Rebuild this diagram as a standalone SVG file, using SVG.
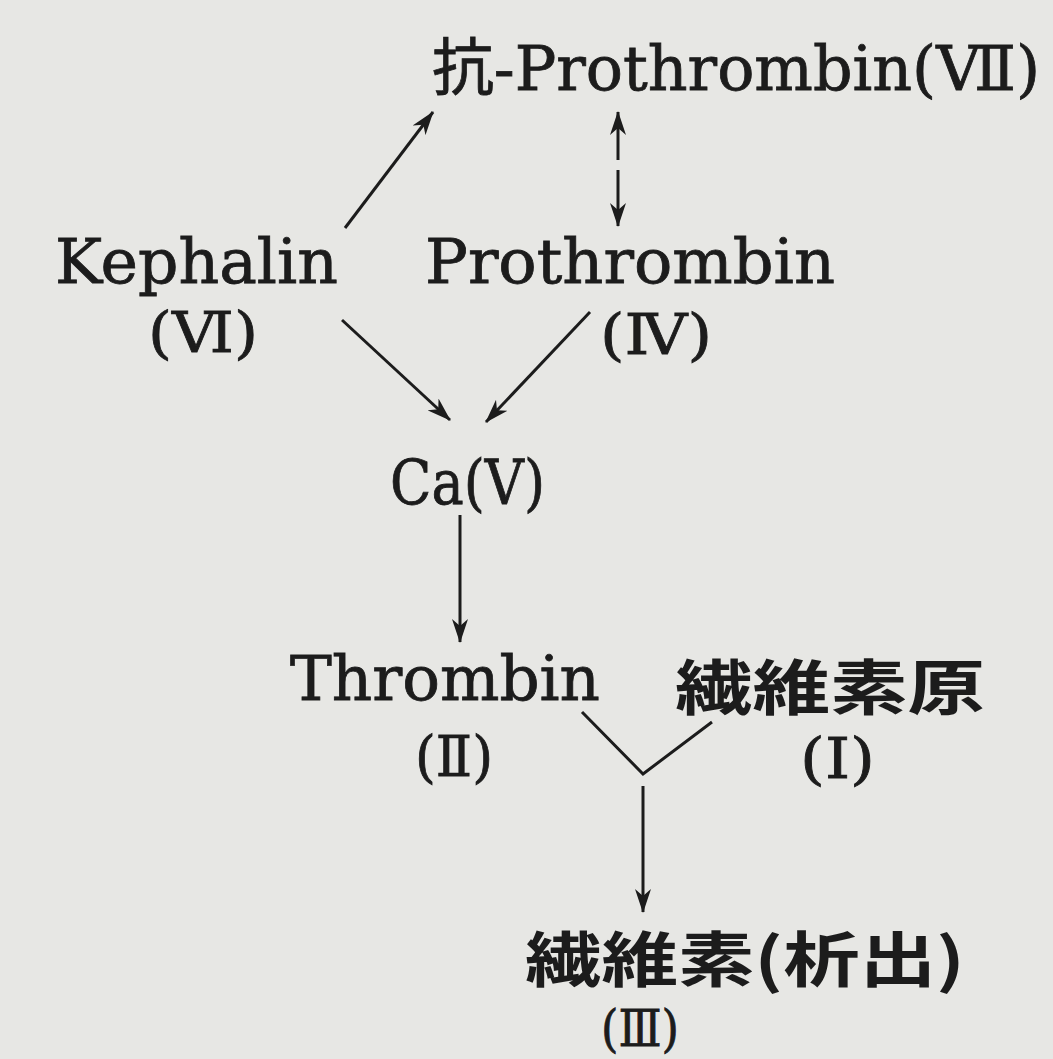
<svg xmlns="http://www.w3.org/2000/svg" width="1053" height="1059" viewBox="0 0 1053 1059">
<defs>
<marker id="ah" viewBox="0 0 24 16" refX="23" refY="8" markerWidth="24" markerHeight="16" markerUnits="userSpaceOnUse" orient="auto-start-reverse">
<path d="M0,0 L24,8 L0,16 L7,8 z" fill="#1c1c1c"/>
</marker>
<style>
.t{font-family:"DejaVu Serif","Liberation Serif","Noto Sans CJK JP",serif;fill:#1c1c1c;stroke:#1c1c1c;stroke-width:0.8;font-size:62px}
.s{font-size:56px}
.xs{font-size:50px}
.cjk{font-family:"Noto Sans CJK JP","Noto Sans CJK SC",sans-serif;font-weight:bold;fill:#1c1c1c;font-size:60px}
.ln{stroke:#1c1c1c;stroke-width:3;fill:none}
</style>
</defs>
<rect width="1053" height="1059" fill="#e7e7e4"/>
<g id="anti-prothrombin"><text class="t" x="432" y="90" textLength="608" lengthAdjust="spacingAndGlyphs">抗-Prothrombin(Ⅶ)</text></g>
<g id="kephalin"><text class="t" x="55" y="283" textLength="283" lengthAdjust="spacingAndGlyphs">Kephalin</text><text class="t s" x="148" y="352" textLength="110" lengthAdjust="spacingAndGlyphs">(Ⅵ)</text></g>
<g id="prothrombin"><text class="t" x="425" y="283" textLength="410" lengthAdjust="spacingAndGlyphs">Prothrombin</text><text class="t s" x="600" y="354" textLength="112" lengthAdjust="spacingAndGlyphs">(Ⅳ)</text></g>
<g id="ca"><text class="t" x="390" y="504" textLength="155" lengthAdjust="spacingAndGlyphs">Ca(Ⅴ)</text></g>
<g id="thrombin"><text class="t" x="290" y="700" textLength="310" lengthAdjust="spacingAndGlyphs">Thrombin</text><text class="t s" x="415" y="776" textLength="78" lengthAdjust="spacingAndGlyphs">(Ⅱ)</text></g>
<g id="fibrinogen"><text class="cjk" x="675" y="710" textLength="310" lengthAdjust="spacingAndGlyphs">繊維素原</text><text class="t s" x="800" y="778" textLength="75" lengthAdjust="spacingAndGlyphs">(Ⅰ)</text></g>
<g id="fibrin"><text class="cjk" x="525" y="982" textLength="440" lengthAdjust="spacingAndGlyphs">繊維素(析出)</text><text class="t xs" x="601" y="1046" textLength="78" lengthAdjust="spacingAndGlyphs">(Ⅲ)</text></g>
<g id="connectors">
<line class="ln" x1="345" y1="228" x2="433" y2="112" marker-end="url(#ah)"/>
<line class="ln" x1="618" y1="160" x2="618" y2="112" marker-end="url(#ah)"/>
<line class="ln" x1="618" y1="170" x2="618" y2="226" marker-end="url(#ah)"/>
<line class="ln" x1="342" y1="320" x2="450" y2="420" marker-end="url(#ah)"/>
<line class="ln" x1="590" y1="312" x2="486" y2="422" marker-end="url(#ah)"/>
<line class="ln" x1="460" y1="515" x2="460" y2="642" marker-end="url(#ah)"/>
<polyline class="ln" points="582,712 643,774 712,722"/>
<line class="ln" x1="643" y1="786" x2="643" y2="912" marker-end="url(#ah)"/>
</g>
</svg>
